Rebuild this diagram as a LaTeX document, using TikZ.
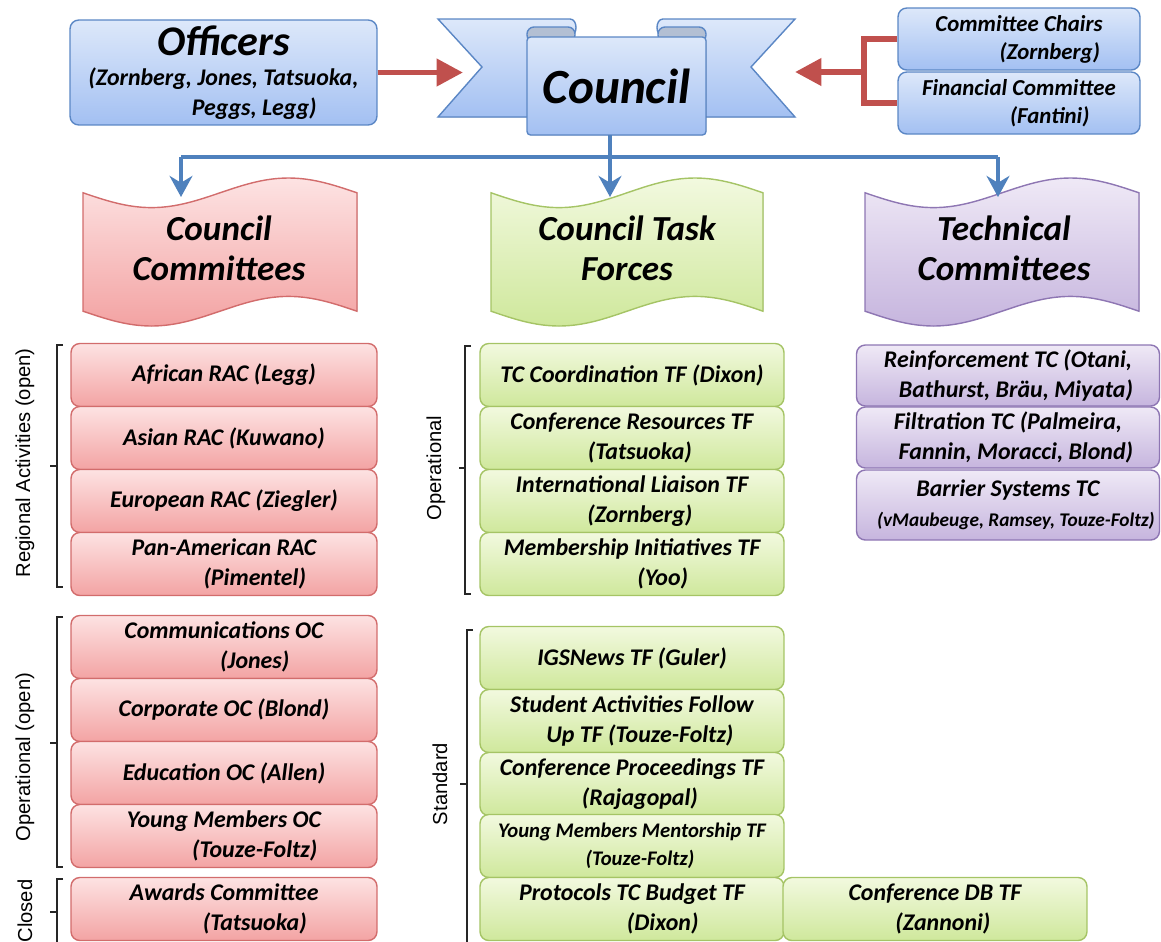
\documentclass[tikz,border=0pt]{standalone}
\usepackage{fontspec}
\setmainfont{Carlito}
\newfontfamily\sidefont{Liberation Sans}
\usetikzlibrary{arrows.meta,positioning}

\definecolor{bluetop}{HTML}{DDE8FA}
\definecolor{bluebot}{HTML}{A3C0F2}
\definecolor{blueedge}{HTML}{5B87C5}
\definecolor{redtop}{HTML}{FDE3E3}
\definecolor{redbot}{HTML}{F3A3A3}
\definecolor{rededge}{HTML}{D26C6C}
\definecolor{greentop}{HTML}{F2F9DF}
\definecolor{greenbot}{HTML}{CFE89C}
\definecolor{greenedge}{HTML}{A5C465}
\definecolor{purptop}{HTML}{EFE9F6}
\definecolor{purpbot}{HTML}{C6B5DE}
\definecolor{purpedge}{HTML}{8E76B3}
\definecolor{foldgray}{HTML}{B3BFD3}
\definecolor{linkred}{HTML}{C0504D}
\definecolor{linkblue}{HTML}{4F81BD}

\newcommand{\farin}{\hspace*{35pt}}
\newcommand{\nearin}{\hspace*{9pt}}
% punched tape outline: left, top, width, height, style
\newcommand{\tape}[5]{%
  \filldraw[#5] ({#1},{#2+0.1*#4}) sin ({#1+0.25*#3},{#2+0.2*#4}) cos ({#1+0.5*#3},{#2+0.1*#4})
    sin ({#1+0.75*#3},{#2}) cos ({#1+#3},{#2+0.1*#4}) -- ({#1+#3},{#2+0.9*#4})
    sin ({#1+0.75*#3},{#2+0.8*#4}) cos ({#1+0.5*#3},{#2+0.9*#4})
    sin ({#1+0.25*#3},{#2+#4}) cos ({#1},{#2+0.9*#4}) -- cycle;}

\tikzset{
  box/.style={rounded corners=5pt, line width=0.8pt, align=center, inner sep=2pt,
    font=\fontsize{13.6}{17}\selectfont\bfseries\itshape},
  officebox/.style={box, draw=blueedge, top color=bluetop, bottom color=bluebot},
  ccbox/.style={box, draw=rededge, top color=redtop, bottom color=redbot,
    minimum width=6.12cm, minimum height=1.26cm},
  tfbox/.style={box, draw=greenedge, top color=greentop, bottom color=greenbot,
    minimum width=6.08cm, minimum height=1.26cm},
  tcbox/.style={box, draw=purpedge, top color=purptop, bottom color=purpbot,
    minimum width=6.06cm, minimum height=1.22cm},
  scrolltitle/.style={align=center, font=\fontsize{20}{23}\selectfont\bfseries\itshape},
  sidelabel/.style={rotate=90, font=\sidefont\fontsize{11.5}{13}\selectfont},
  bracketline/.style={line width=0.8pt, draw=black!85},
  redlink/.style={line width=3.4pt, draw=linkred},
  redarrow/.style={redlink, -{Triangle[length=15pt,width=15pt]}},
  bluelink/.style={line width=2.4pt, draw=linkblue},
  bluearrow/.style={bluelink, -{Stealth[length=12pt,width=13pt]}},
  bannerpart/.style={draw=blueedge, line width=0.8pt, top color=bluetop, bottom color=bluebot},
}

\begin{document}
\begin{tikzpicture}[x=0.02cm, y=-0.02cm]
\useasboundingbox (0,0) rectangle (1161,941);

% council banner
\filldraw[bannerpart] (438,19) -- (570,19) .. controls (578,19) and (578,36) .. (570,36)
  -- (570,117) -- (438,117) -- (482,67) -- cycle;
\filldraw[bannerpart] (795,19) -- (663,19) .. controls (655,19) and (655,36) .. (663,36)
  -- (663,117) -- (795,117) -- (751,67) -- cycle;
\filldraw[draw=blueedge, line width=0.8pt, fill=foldgray, rounded corners=4pt] (527,27) rectangle (575,42);
\filldraw[draw=blueedge, line width=0.8pt, fill=foldgray, rounded corners=4pt] (658,27) rectangle (706,42);
\filldraw[bannerpart, rounded corners=2pt] (527,37) rectangle (706,135);
\node[font=\fontsize{28}{32}\selectfont\bfseries\itshape, minimum width=3.58cm, minimum height=1.96cm] (council) at (616.5,86) {Council};

% top boxes
\node[officebox, minimum width=6.14cm, minimum height=2.1cm] (officers) at (223.5,72.5)
  {{\fontsize{24}{26}\selectfont Officers}\\(Zornberg, Jones, Tatsuoka,\\\farin Peggs, Legg)};
\node[officebox, minimum width=4.84cm, minimum height=1.24cm, font=\fontsize{13}{16}\selectfont\bfseries\itshape]
  (chairs) at (1019,39) {Committee Chairs\\\farin(Zornberg)};
\node[officebox, minimum width=4.84cm, minimum height=1.24cm, font=\fontsize{13}{16}\selectfont\bfseries\itshape]
  (fin) at (1019,103) {Financial Committee\\\farin(Fantini)};

\coordinate (lefttip) at (463,72.5);
\coordinate (righttip) at (795,72);
\coordinate (join) at (864,72);
\draw[redarrow] (officers.east) -- (lefttip);
\draw[redlink] (chairs.west) -| (join) |- (fin.west);
\draw[redarrow] (join) -- (righttip);

% scrolls
\tape{83}{178}{274}{148}{draw=rededge, line width=0.8pt, top color=redtop, bottom color=redbot}
\tape{491}{178}{272}{148}{draw=greenedge, line width=0.8pt, top color=greentop, bottom color=greenbot}
\tape{865}{178}{274}{148}{draw=purpedge, line width=0.8pt, top color=purptop, bottom color=purpbot}
\node[scrolltitle] (cctitle) at (219,248) {Council\\Committees};
\node[scrolltitle] (tftitle) at (627,248) {Council Task\\Forces};
\node[scrolltitle] (tctitle) at (1004,248) {Technical\\Committees};

\coordinate (hub) at (610,157);
\coordinate (cctop) at (181,197);
\coordinate (tftop) at (610,197);
\coordinate (tctop) at (998,197);
\draw[bluelink] (cctop |- hub) -- (tctop |- hub);
\draw[bluearrow] (tftop |- council.south) -- (tftop);
\draw[bluearrow] (cctop |- hub) -- (cctop);
\draw[bluearrow] (tctop |- hub) -- (tctop);

% council committees
\node[ccbox] (african) at (224,375) {African RAC (Legg)};
\node[ccbox] (asian) at (224,438) {Asian RAC (Kuwano)};
\node[ccbox] (european) at (224,501) {European RAC (Ziegler)};
\node[ccbox] (panam) at (224,564) {Pan-American RAC\\\farin(Pimentel)};
\node[ccbox] (comms) at (224,647) {Communications OC\\\farin(Jones)};
\node[ccbox] (corporate) at (224,710) {Corporate OC (Blond)};
\node[ccbox] (education) at (224,773) {Education OC (Allen)};
\node[ccbox] (youngoc) at (224,836) {Young Members OC\\\farin(Touze-Foltz)};
\node[ccbox] (awards) at (224,909) {Awards Committee\\\farin(Tatsuoka)};

\draw[bracketline] (63,345) -- (57,345) -- (57,587) -- (63,587);
\draw[bracketline] (57,466) -- (50,466);
\node[sidelabel] (reglab) at (25,463) {Regional Activities (open)};
\draw[bracketline] (63,617) -- (57,617) -- (57,867) -- (63,867);
\draw[bracketline] (57,743) -- (50,743);
\node[sidelabel] (oplab) at (25,757) {Operational (open)};
\draw[bracketline] (63,879) -- (57,879) -- (57,945);
\draw[bracketline] (57,912) -- (50,912);
\node[sidelabel] (closedlab) at (25,911) {Closed};

% task forces
\node[tfbox] (tccoord) at (632,375) {TC Coordination TF (Dixon)};
\node[tfbox] (confres) at (632,438) {Conference Resources TF\\\nearin(Tatsuoka)};
\node[tfbox] (liaison) at (632,501) {International Liaison TF\\\nearin(Zornberg)};
\node[tfbox] (member) at (632,564) {Membership Initiatives TF\\\farin(Yoo)};
\node[tfbox] (igsnews) at (632,658) {IGSNews TF (Guler)};
\node[tfbox] (student) at (632,721) {Student Activities Follow\\\nearin Up TF (Touze-Foltz)};
\node[tfbox] (proceed) at (632,784) {Conference Proceedings TF\\\nearin(Rajagopal)};
\node[tfbox, font=\fontsize{11.8}{16}\selectfont\bfseries\itshape] (mentor) at (632,846)
  {Young Members Mentorship TF\\\nearin(Touze-Foltz)};
\node[tfbox] (protocols) at (632,909) {Protocols TC Budget TF\\\farin(Dixon)};
\node[tfbox] (confdb) at (935,909) {Conference DB TF\\\nearin(Zannoni)};

\draw[bracketline] (471,346) -- (465,346) -- (465,594) -- (471,594);
\draw[bracketline] (465,468) -- (459,468);
\node[sidelabel] (tfoplab) at (436,468) {Operational};
\draw[bracketline] (473,630) -- (467,630) -- (467,945);
\draw[bracketline] (467,784) -- (460,784);
\node[sidelabel] (stdlab) at (440,784) {Standard};

% technical committees
\node[tcbox] (reinf) at (1008,375.5) {Reinforcement TC (Otani,\\\nearin Bathurst, Bräu, Miyata)};
\node[tcbox] (filtr) at (1008,437.5) {Filtration TC (Palmeira,\\\nearin Fannin, Moracci, Blond)};
\node[tcbox, minimum height=1.4cm] (barrier) at (1008,505)
  {Barrier Systems TC\\\nearin{\fontsize{11}{14}\selectfont(vMaubeuge, Ramsey, Touze-Foltz)}};
\end{tikzpicture}
\end{document}
